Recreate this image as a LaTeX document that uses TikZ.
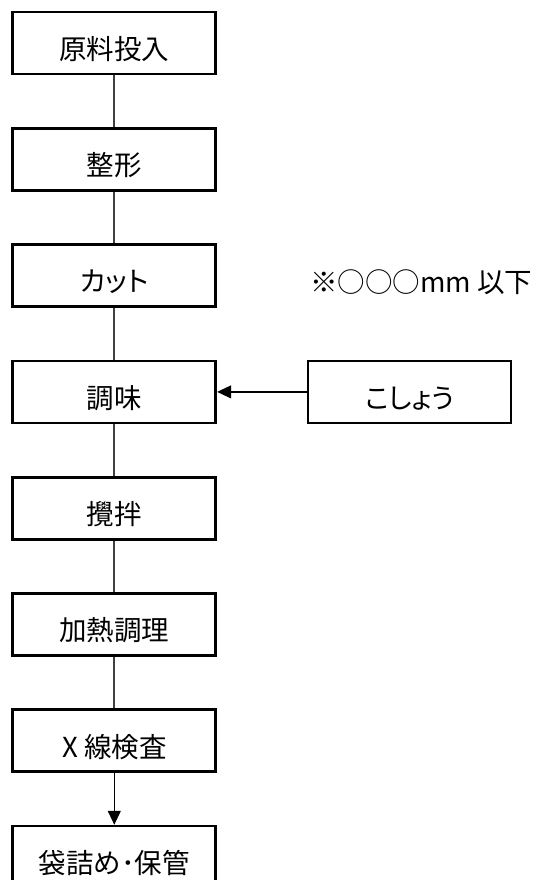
\documentclass[tikz,border=0pt]{standalone}
\usepackage{fontspec}
\setmainfont{Noto Sans CJK JP}
\newfontfamily\jpprop[RawFeature=+palt]{Noto Sans CJK JP}
\usetikzlibrary{arrows.meta}
\definecolor{conn}{RGB}{64,64,64}
\tikzset{
  procbox/.style={draw=black, line width=2.7, minimum width=203, minimum height=62,
    inner sep=0, text height=34, text depth=1.4, font=\fontsize{27.5}{32}\selectfont},
  connline/.style={draw=conn, line width=1.8},
  arrline/.style={draw=black, line width=1.2, -{Triangle[length=14,width=13]}},
  notetext/.style={inner sep=0, font=\fontsize{27.5}{32}\selectfont}
}
\begin{document}
\begin{tikzpicture}[x=1pt, y=-1pt]
\useasboundingbox (0,0) rectangle (540,880);
\node[procbox] (n1) at (114.3,43.0) {原料投入};
\node[procbox] (n2) at (114.3,159.3) {整形};
\node[procbox] (n3) at (114.3,275.6) {{\jpprop カット}};
\node[procbox] (n4) at (114.3,391.9) {調味};
\node[procbox] (n5) at (114.3,508.2) {攪拌};
\node[procbox] (n6) at (114.3,624.5) {加熱調理};
\node[procbox] (n7) at (114.3,740.8) {X 線検査};
\node[procbox] (n8) at (114.3,857.1) {袋詰め･保管};
\node[procbox] (k) at (409.5,391.9) {{\jpprop こしょう}};
\node[notetext, anchor=base west] (note) at (310,292.3) {※○○○mm 以下};
\draw[connline] (n1.south) -- (n2.north);
\draw[connline] (n2.south) -- (n3.north);
\draw[connline] (n3.south) -- (n4.north);
\draw[connline] (n4.south) -- (n5.north);
\draw[connline] (n5.south) -- (n6.north);
\draw[connline] (n6.south) -- (n7.north);
\draw[arrline] (n7.south) -- (n8.north);
\draw[arrline] (k.west) -- (n4.east);
\end{tikzpicture}
\end{document}
